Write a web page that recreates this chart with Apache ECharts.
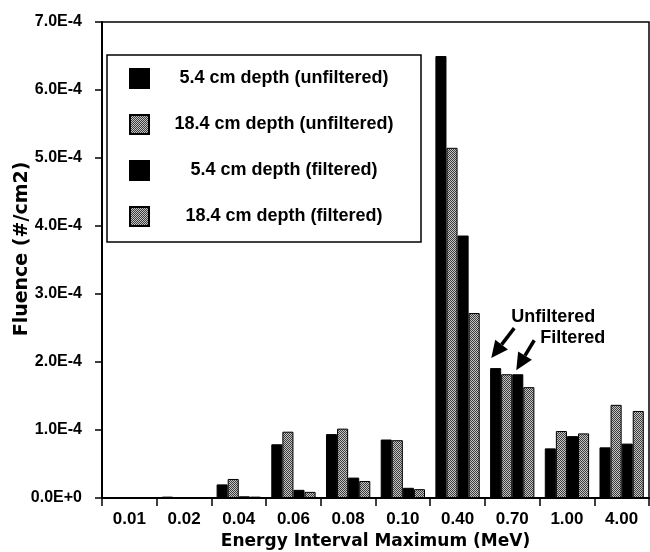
<!DOCTYPE html>
<html>
<head>
<meta charset="utf-8">
<script src="https://cdn.jsdelivr.net/npm/echarts@6/dist/echarts.min.js"></script>
<style>
  html, body { margin: 0; padding: 0; background: #fff; }
  #chart { width: 650px; height: 552px; }
</style>
</head>
<body>
<div id="chart"></div>
<script>
var categories = ['0.01', '0.02', '0.04', '0.06', '0.08', '0.10', '0.40', '0.70', '1.00', '4.00'];
var seriesNames = ['5.4 cm depth (unfiltered)', '18.4 cm depth (unfiltered)', '5.4 cm depth (filtered)', '18.4 cm depth (filtered)'];
var unfiltered54 = [0, 2e-6, 2.0e-5, 7.9e-5, 9.4e-5, 8.6e-5, 6.5e-4, 1.91e-4, 7.3e-5, 7.45e-5];
var unfiltered184 = [0, 0, 2.8e-5, 9.75e-5, 1.02e-4, 8.5e-5, 5.15e-4, 1.82e-4, 9.85e-5, 1.37e-4];
var filtered54 = [0, 0, 2.5e-6, 1.2e-5, 3.0e-5, 1.5e-5, 3.86e-4, 1.82e-4, 9.1e-5, 8.0e-5];
var filtered184 = [0, 0, 2e-6, 9e-6, 2.5e-5, 1.3e-5, 2.72e-4, 1.63e-4, 9.5e-5, 1.28e-4];

var tickFont = 'Liberation Sans, Arial, sans-serif';
var titleFont = 'DejaVu Sans, sans-serif';

// stippled grey like the halftone in the scan
var pat = document.createElement('canvas');
pat.width = 2; pat.height = 2;
var pctx = pat.getContext('2d');
pctx.fillStyle = '#c4c4c4'; pctx.fillRect(0, 0, 2, 2);
pctx.fillStyle = '#3c3c3c'; pctx.fillRect(0, 0, 1, 1); pctx.fillRect(1, 1, 1, 1);
var grey = { image: pat, repeat: 'repeat' };

function barSeries(name, data, fill) {
  return {
    name: name,
    type: 'bar',
    data: data,
    barGap: '0%',
    barCategoryGap: '19%',
    itemStyle: { color: fill, borderColor: '#000', borderWidth: 1 }
  };
}

var chart = echarts.init(document.getElementById('chart'), null, { renderer: 'canvas' });

var option = {
  animation: false,
  grid: {
    left: 102, right: 1, top: 22, bottom: 54,
    outerBoundsMode: 'none',
    containLabel: false,
    show: true, borderColor: '#000', borderWidth: 1.5, backgroundColor: 'transparent'
  },
  legend: {
    left: 107, top: 55,
    orient: 'vertical',
    backgroundColor: '#fff',
    borderColor: '#000', borderWidth: 1.5,
    padding: [13, 7, 15, 22],
    itemWidth: 19, itemHeight: 19, itemGap: 25,
    icon: 'rect',
    data: seriesNames,
    formatter: function(name) { return '{c|' + name + '}'; },
    textStyle: {
      rich: {
        c: { width: 260, align: 'center', fontFamily: tickFont, fontWeight: 'bold', fontSize: 18, lineHeight: 19, color: '#000' }
      }
    }
  },
  xAxis: {
    type: 'category',
    data: categories,
    name: 'Energy Interval Maximum (MeV)',
    nameLocation: 'middle',
    nameGap: 35,
    nameMoveOverlap: false,
    nameTextStyle: { fontFamily: titleFont, fontWeight: 'bold', fontSize: 17, color: '#000' },
    axisLine: { lineStyle: { color: '#000', width: 2 } },
    axisTick: { show: true, inside: false, length: 8, lineStyle: { color: '#000', width: 1.5 } },
    axisLabel: { margin: 13, fontFamily: tickFont, fontWeight: 'bold', fontSize: 17, color: '#000' }
  },
  yAxis: {
    type: 'value',
    min: 0, max: 7e-4, interval: 1e-4,
    name: 'Fluence (#/cm2)',
    nameLocation: 'middle',
    nameGap: 70,
    nameMoveOverlap: false,
    nameTextStyle: { fontFamily: titleFont, fontWeight: 'bold', fontSize: 19, color: '#000', padding: [0, 0, 0, 22] },
    splitLine: { show: false },
    axisLine: { show: true, lineStyle: { color: '#000', width: 2 } },
    axisTick: { show: true, inside: false, length: 7, lineStyle: { color: '#000', width: 1.5 } },
    axisLabel: {
      margin: 20,
      fontFamily: tickFont, fontWeight: 'bold', fontSize: 16, color: '#000',
      formatter: function(v) { return v.toExponential(1).toUpperCase(); }
    }
  },
  series: [
    barSeries(seriesNames[0], unfiltered54, '#000'),
    barSeries(seriesNames[1], unfiltered184, grey),
    barSeries(seriesNames[2], filtered54, '#000'),
    barSeries(seriesNames[3], filtered184, grey)
  ]
};
chart.setOption(option);

//////////// arrows pointing at the 0.70 bars
function arrow(tail, tip) {
  var dx = tip[0] - tail[0], dy = tip[1] - tail[1];
  var len = Math.sqrt(dx * dx + dy * dy);
  var ux = dx / len, uy = dy / len;
  var hl = 17, hw = 8;
  var bx = tip[0] - ux * hl, by = tip[1] - uy * hl;
  return [
    { type: 'line', shape: { x1: tail[0], y1: tail[1], x2: bx, y2: by }, style: { stroke: '#000', lineWidth: 3.5 } },
    { type: 'polygon', shape: { points: [tip, [bx - uy * hw, by + ux * hw], [bx + uy * hw, by - ux * hw]] }, style: { fill: '#000' } }
  ];
}
var pU = chart.convertToPixel({ xAxisIndex: 0, yAxisIndex: 0 }, [7, unfiltered54[7]]);
var pF = chart.convertToPixel({ xAxisIndex: 0, yAxisIndex: 0 }, [7, filtered54[7]]);
var tipU = [pU[0] - 21, pU[1] - 10];
var tipF = [pF[0] + 4, pF[1] - 4];
var graphics = [].concat(
  arrow([tipU[0] + 23, tipU[1] - 30], tipU),
  arrow([tipF[0] + 18, tipF[1] - 30], tipF),
  [
    { type: 'text', left: tipU[0] + 20, top: tipU[1] - 50, style: { text: 'Unfiltered', fontFamily: tickFont, fontWeight: 'bold', fontSize: 18, fill: '#000' } },
    { type: 'text', left: tipF[0] + 24, top: tipF[1] - 41, style: { text: 'Filtered', fontFamily: tickFont, fontWeight: 'bold', fontSize: 18, fill: '#000' } }
  ]
);
chart.setOption({ graphic: graphics });
</script>
</body>
</html>
